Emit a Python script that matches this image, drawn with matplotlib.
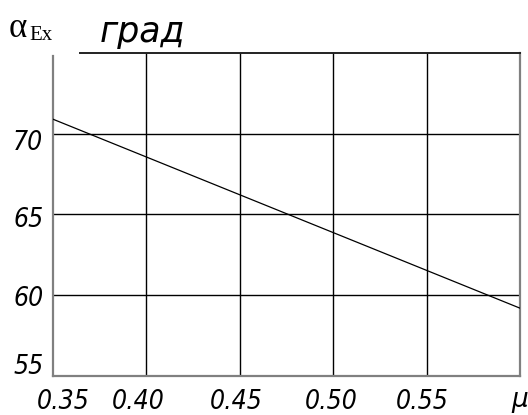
import matplotlib
matplotlib.use("Agg")
import matplotlib.pyplot as plt
import matplotlib.transforms as mtrans

# data
mu = [0.35, 0.60]
alpha_ex = [70.9, 59.2]

x_ticks = [0.35, 0.40, 0.45, 0.50, 0.55]
x_labels = ["0.35", "0.40", "0.45", "0.50", "0.55"]
y_ticks = [55, 60, 65, 70]
y_labels = ["55", "60", "65", "70"]

W, H = 528, 415
fig = plt.figure(figsize=(W / 100, H / 100), dpi=100)
ax = fig.add_axes([53 / W, (H - 376) / H, (520 - 53) / W, (376 - 53) / H])

ax.set_xlim(0.35, 0.60)
ax.set_ylim(55, 75)

tick_font = dict(family="DejaVu Sans", style="italic", stretch="condensed", size=19)

# grid
for x in x_ticks[1:]:
    ax.axvline(x, color="black", lw=1.0, zorder=1)
for y in y_ticks[1:]:
    ax.axhline(y, color="black", lw=1.0, zorder=1)

ax.plot(mu, alpha_ex, color="black", lw=0.9, zorder=3)

for s in ["left", "right", "bottom"]:
    ax.spines[s].set_color("#808080")
    ax.spines[s].set_linewidth(1.6)
ax.spines["left"].set_bounds(55, 74.8)
ax.spines["top"].set_color("#222222")
ax.spines["top"].set_linewidth(1.4)
ax.spines["top"].set_bounds(0.3645, 0.60)

ax.tick_params(length=0)
ax.set_xticks(x_ticks)
ax.set_xticklabels(x_labels, fontdict=tick_font)
ax.set_yticks(y_ticks)
ax.set_yticklabels(y_labels, fontdict=tick_font)
ax.tick_params(axis="x", pad=9)
ax.tick_params(axis="y", pad=7)

# nudge labels like the hand-made original
x_shift = [10, -8, -4, -2, -4]
for lab, dx in zip(ax.get_xticklabels(), x_shift):
    lab.set_transform(lab.get_transform() + mtrans.ScaledTranslation(dx / 100, 0, fig.dpi_scale_trans))
y_shift = [12, -1, -3, -6]
for lab, dy in zip(ax.get_yticklabels(), y_shift):
    lab.set_transform(lab.get_transform() + mtrans.ScaledTranslation(0, dy / 100, fig.dpi_scale_trans))

# axis captions
fig.text(9 / W, (H - 37) / H, "α", family="Liberation Serif", size=25, va="baseline")
fig.text(29 / W, (H - 40) / H, "Ex", family="Liberation Serif", size=15, va="baseline")
fig.text(100 / W, (H - 42) / H, "град", family="DejaVu Sans", style="italic", size=25, va="baseline")
fig.text(511 / W, (H - 407) / H, "μ", family="DejaVu Sans", style="italic", size=19, va="baseline")

fig.savefig("out.png", dpi=100)
